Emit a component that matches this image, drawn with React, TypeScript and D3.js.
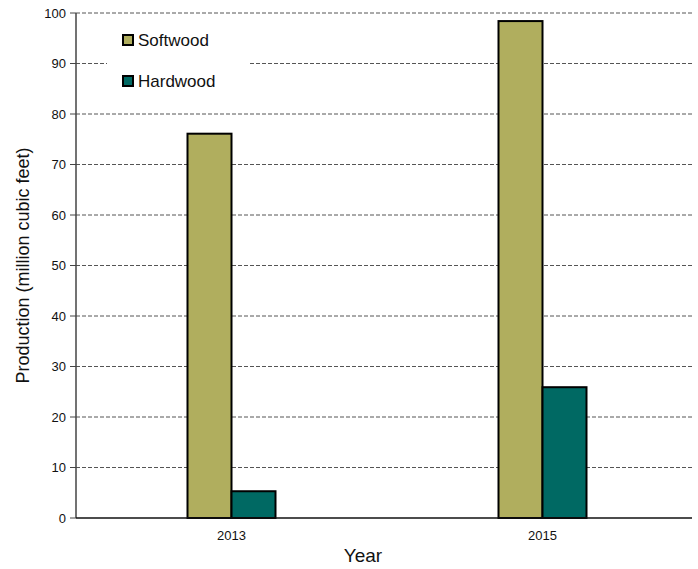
import React from "react";
import * as d3 from "d3";

const years = ["2013", "2015"];
const seriesNames = ["Softwood", "Hardwood"];
const softwood = [76.1, 98.4];
const hardwood = [5.3, 25.9];
const yTicks = [0, 10, 20, 30, 40, 50, 60, 70, 80, 90, 100];
const colors = ["#b0ae5e", "#006963"];

const W = 698, H = 569;
const m = { left: 76, right: 6, top: 13, bottom: 51 };

export default function App() {
  const x = d3.scaleBand().domain(years).range([m.left, W]).paddingInner(0).paddingOuter(0);
  const y = d3.scaleLinear().domain([0, 100]).range([H - m.bottom, m.top]);
  const inner = d3.scaleBand().domain(seriesNames).range([0, 88]);
  const values = [softwood, hardwood];
  const font = "Liberation Sans, Arial, sans-serif";
  return (
    <svg width={W} height={H} style={{ position: "absolute", left: 0, top: 0 }} fontFamily={font}>
      <rect width={W} height={H} fill="#fff" />
      {yTicks.filter(t => t > 0).map(t => (
        <line key={"g" + t} x1={m.left} x2={W - m.right} y1={y(t)} y2={y(t)} stroke="#555" strokeDasharray="4,2" strokeWidth={1} />
      ))}
      {yTicks.map(t => (
        <g key={"t" + t}>
          <line x1={m.left - 6} x2={m.left} y1={y(t)} y2={y(t)} stroke="#444" />
          <text x={m.left - 10} y={y(t)} dy="0.35em" textAnchor="end" fontSize={13} fill="#111">{t}</text>
        </g>
      ))}
      <rect x={107} y={22} width={143} height={76} fill="#fff" />
      {years.map((yr, i) => (
        <g key={yr}>
          {seriesNames.map((s, j) => {
            const v = values[j][i];
            const bx = (x(yr)! + x.bandwidth() / 2 - 44) + inner(s)!;
            return (
              <rect key={s} x={bx} y={y(v)} width={inner.bandwidth()} height={y(0) - y(v)} fill={colors[j]} stroke="#000" strokeWidth={2} />
            );
          })}
          <text x={x(yr)! + x.bandwidth() / 2} y={H - m.bottom + 22} textAnchor="middle" fontSize={13} fill="#111">{yr}</text>
        </g>
      ))}
      <line x1={m.left} x2={m.left} y1={m.top} y2={y(0)} stroke="#444" strokeWidth={1.5} />
      <line x1={m.left} x2={W - m.right} y1={y(0)} y2={y(0)} stroke="#111" strokeWidth={1.5} />
      {seriesNames.map((s, j) => (
        <g key={s} transform={`translate(123, ${40 + j * 41})`}>
          <rect x={0} y={-5} width={10} height={10} fill={colors[j]} stroke="#000" strokeWidth={2} />
          <text x={15} y={0} dy="0.36em" fontSize={17} fill="#111">{s}</text>
        </g>
      ))}
      <text transform={`translate(29, ${(m.top + y(0)) / 2}) rotate(-90)`} textAnchor="middle" fontSize={18} fill="#111">Production (million cubic feet)</text>
      <text x={363} y={H - 7} textAnchor="middle" fontSize={19} fill="#111">Year</text>
    </svg>
  );
}
